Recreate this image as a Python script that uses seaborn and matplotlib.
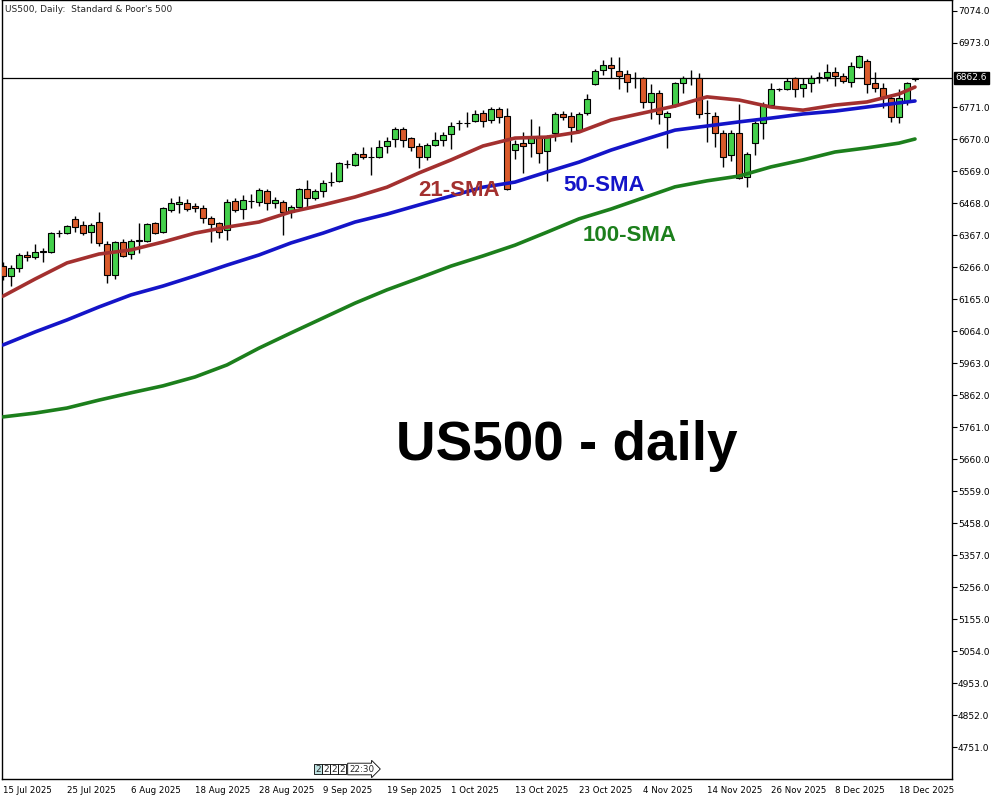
import matplotlib
matplotlib.use("Agg")
import matplotlib.pyplot as plt
import matplotlib.transforms as mtransforms
import seaborn as sns
import pandas as pd
import numpy as np

# ---------------- data ----------------
opens = [6269, 6238, 6263, 6304, 6298, 6316, 6313, 6373, 6373, 6418,
         6399, 6377, 6408, 6339, 6241, 6345, 6307, 6348, 6348, 6405,
         6377, 6446, 6465, 6468, 6459, 6452, 6421, 6405, 6383, 6474,
         6449, 6474, 6471, 6506, 6468, 6471, 6440, 6455, 6512, 6484,
         6506, 6534, 6537, 6591, 6588, 6623, 6613, 6613, 6648, 6670,
         6702, 6673, 6648, 6613, 6651, 6667, 6686, 6720, 6720, 6727,
         6752, 6730, 6765, 6743, 6635, 6657, 6657, 6679, 6632, 6689,
         6749, 6743, 6698, 6752, 6844, 6888, 6904, 6885, 6875, 6862,
         6862, 6787, 6815, 6739, 6777, 6847, 6862, 6862, 6752, 6743,
         6689, 6620, 6689, 6550, 6657, 6721, 6777, 6828, 6828, 6862,
         6831, 6847, 6866, 6866, 6881, 6869, 6850, 6897, 6916, 6847,
         6831, 6799, 6739, 6787, 6859]
highs = [6282, 6272, 6310, 6317, 6339, 6326, 6377, 6383, 6399, 6427,
         6411, 6405, 6440, 6348, 6348, 6354, 6354, 6405, 6405, 6408,
         6455, 6484, 6490, 6481, 6468, 6462, 6427, 6408, 6481, 6484,
         6493, 6496, 6515, 6512, 6487, 6478, 6462, 6515, 6541, 6512,
         6541, 6566, 6597, 6604, 6629, 6645, 6645, 6667, 6676, 6708,
         6708, 6676, 6657, 6657, 6692, 6692, 6724, 6730, 6755, 6761,
         6761, 6771, 6771, 6768, 6667, 6692, 6733, 6711, 6683, 6755,
         6758, 6755, 6755, 6812, 6891, 6919, 6929, 6929, 6888, 6881,
         6866, 6844, 6825, 6758, 6850, 6869, 6888, 6878, 6793, 6755,
         6698, 6698, 6780, 6629, 6727, 6787, 6847, 6831, 6862, 6866,
         6862, 6872, 6881, 6907, 6897, 6878, 6913, 6935, 6922, 6881,
         6847, 6812, 6828, 6850, 6863]
lows = [6225, 6206, 6250, 6285, 6291, 6282, 6310, 6361, 6370, 6377,
        6367, 6342, 6332, 6216, 6228, 6298, 6291, 6310, 6345, 6370,
        6373, 6440, 6437, 6443, 6440, 6405, 6345, 6358, 6351, 6440,
        6418, 6452, 6459, 6446, 6452, 6367, 6421, 6452, 6455, 6478,
        6487, 6522, 6534, 6578, 6585, 6607, 6556, 6610, 6626, 6645,
        6645, 6632, 6579, 6604, 6648, 6648, 6639, 6698, 6708, 6724,
        6708, 6721, 6721, 6509, 6607, 6563, 6613, 6594, 6537, 6663,
        6730, 6660, 6692, 6746, 6840, 6872, 6862, 6828, 6818, 6831,
        6768, 6733, 6717, 6642, 6771, 6815, 6840, 6736, 6660, 6645,
        6582, 6601, 6544, 6519, 6620, 6670, 6771, 6822, 6825, 6803,
        6803, 6818, 6847, 6853, 6837, 6847, 6834, 6894, 6815, 6818,
        6768, 6724, 6721, 6777, 6853]
closes = [6238, 6263, 6304, 6298, 6313, 6314, 6373, 6374, 6395, 6392,
          6373, 6399, 6342, 6241, 6345, 6301, 6348, 6351, 6402, 6373,
          6452, 6468, 6471, 6449, 6452, 6421, 6402, 6377, 6471, 6446,
          6478, 6475, 6509, 6468, 6478, 6440, 6455, 6512, 6484, 6506,
          6531, 6534, 6594, 6591, 6623, 6613, 6614, 6645, 6664, 6702,
          6667, 6645, 6613, 6651, 6667, 6683, 6711, 6721, 6722, 6749,
          6727, 6765, 6739, 6512, 6654, 6648, 6673, 6626, 6676, 6749,
          6739, 6708, 6749, 6796, 6885, 6904, 6894, 6869, 6850, 6863,
          6787, 6815, 6749, 6752, 6847, 6862, 6863, 6749, 6751, 6689,
          6613, 6689, 6547, 6623, 6721, 6777, 6828, 6827, 6853, 6828,
          6844, 6862, 6865, 6881, 6869, 6853, 6900, 6932, 6844, 6831,
          6803, 6739, 6799, 6847, 6862.6]

# moving averages, read every 4th bar
sma_bars = [0, 4, 8, 12, 16, 20, 24, 28, 32, 36, 40, 44, 48, 52, 56,
            60, 64, 68, 72, 76, 80, 84, 88, 92, 96, 100, 104, 108, 112, 114]
sma21 = [6174, 6228, 6279, 6307, 6320, 6345, 6373, 6392, 6408, 6440,
         6462, 6487, 6518, 6563, 6604, 6648, 6673, 6676, 6692, 6730,
         6752, 6774, 6803, 6793, 6771, 6761, 6777, 6787, 6812, 6834]
sma50 = [6020, 6061, 6099, 6140, 6178, 6206, 6238, 6272, 6304, 6342,
         6373, 6408, 6433, 6462, 6490, 6518, 6534, 6566, 6597, 6635,
         6667, 6698, 6711, 6724, 6736, 6749, 6758, 6771, 6784, 6790]
sma100 = [5793, 5805, 5821, 5846, 5869, 5891, 5919, 5957, 6010, 6058,
          6105, 6152, 6194, 6231, 6269, 6301, 6335, 6376, 6418, 6449,
          6484, 6519, 6538, 6553, 6582, 6604, 6629, 6642, 6657, 6670]

date_tick_bars = [0, 8, 16, 24, 32, 40, 48, 56, 64, 72, 80, 88, 96, 104, 112]
date_labels = ["15 Jul 2025", "25 Jul 2025", "6 Aug 2025", "18 Aug 2025",
               "28 Aug 2025", "9 Sep 2025", "19 Sep 2025", "1 Oct 2025",
               "13 Oct 2025", "23 Oct 2025", "4 Nov 2025", "14 Nov 2025",
               "26 Nov 2025", "8 Dec 2025", "18 Dec 2025"]
price_ticks = [4751.0, 4852.0, 4953.0, 5054.0, 5155.0, 5256.0, 5357.0,
               5458.0, 5559.0, 5660.0, 5761.0, 5862.0, 5963.0, 6064.0,
               6165.0, 6266.0, 6367.0, 6468.0, 6569.0, 6670.0, 6771.0,
               6973.0, 7074.0]
last_price = 6862.6

title_text = "US500, Daily:  Standard & Poor's 500"
big_label = "US500 - daily"

# ---------------- styling ----------------
sns.set_style("white")
plt.rcParams['font.family'] = ['DejaVu Sans']

BULL = '#44d04c'
BEAR = '#d95a2b'
C21 = '#a3302f'
C50 = '#1414c8'
C100 = '#1c7f1c'

fig = plt.figure(figsize=(10, 8), dpi=100)
ax = fig.add_axes([0.002, 21 / 800, 0.950, 779 / 800])

df = pd.DataFrame({"bar": np.arange(len(opens)), "open": opens,
                   "high": highs, "low": lows, "close": closes})
up = df["close"] >= df["open"]
colors = np.where(up, BULL, BEAR)

ax.axhline(last_price, color='black', lw=0.9, zorder=1)
ax.vlines(df["bar"], df["low"], df["high"], color='black', lw=1.0, zorder=2)
ax.bar(df["bar"], df["close"] - df["open"], bottom=df["open"], width=0.72,
       color=colors, edgecolor='black', linewidth=0.8, zorder=3)

sma_df = pd.DataFrame({"bar": sma_bars, "s21": sma21, "s50": sma50, "s100": sma100})
sns.lineplot(data=sma_df, x="bar", y="s100", ax=ax, color=C100, lw=2.6, zorder=4)
sns.lineplot(data=sma_df, x="bar", y="s50", ax=ax, color=C50, lw=2.6, zorder=4)
sns.lineplot(data=sma_df, x="bar", y="s21", ax=ax, color=C21, lw=2.6, zorder=4)

ax.set_xlim(-0.125, 118.625)
ax.set_ylim(4650.2, 7108.7)
ax.set_xlabel("")
ax.set_ylabel("")

# texts on the chart
ax.text(51.9, 6490, "21-SMA", color=C21, fontsize=16, fontweight='bold',
        family='Liberation Sans', ha='left', va='baseline', zorder=5)
ax.text(70.0, 6506, "50-SMA", color=C50, fontsize=16, fontweight='bold',
        family='Liberation Sans', ha='left', va='baseline', zorder=5)
ax.text(72.5, 6348, "100-SMA", color=C100, fontsize=16, fontweight='bold',
        family='Liberation Sans', ha='left', va='baseline', zorder=5)
ax.text(70.5, 5657, big_label, color='black', fontsize=39.5, fontweight='bold',
        family='Liberation Sans', ha='center', va='baseline', zorder=5)

# axes
ax.yaxis.tick_right()
ax.set_yticks(price_ticks)
ax.set_yticklabels([f"{v:.1f}" for v in price_ticks])
ax.tick_params(axis='y', direction='out', length=3.5, width=0.8, pad=0.8,
               labelsize=6.5, colors='black')
ax.set_xticks(date_tick_bars)
ax.set_xticklabels(date_labels, ha='left')
ax.tick_params(axis='x', direction='out', length=4, width=0.8, pad=1.2,
               labelsize=6.2, colors='black')
for s in ax.spines.values():
    s.set_color('black')
    s.set_linewidth(1.0)

# current price tag
trans = mtransforms.blended_transform_factory(ax.transAxes, ax.transData)
ax.text(1.004, last_price, f"{last_price:.1f}", transform=trans, color='white',
        fontsize=6.5, ha='left', va='center',
        bbox=dict(facecolor='black', edgecolor='black', pad=1.2), clip_on=False)

# header
fig.text(0.005, 1 - 9 / 800, title_text, fontsize=6.5, ha='left', va='center')

# period separator markers near the bottom
marker_y = 1 - 769 / 800
for k, fc in enumerate(['#bfe3e3', 'white', 'white', 'white']):
    fig.text((318 + 8 * k) / 1000, marker_y, "2", fontsize=6.5, ha='center',
             va='center', bbox=dict(facecolor=fc, edgecolor='black', lw=0.6,
                                    pad=0.6))
fig.text(349 / 1000, marker_y, "22:30", fontsize=6.3, ha='left', va='center',
         bbox=dict(boxstyle='rarrow,pad=0.15', facecolor='white',
                   edgecolor='black', lw=0.6))

fig.savefig("out.png", dpi=100)
